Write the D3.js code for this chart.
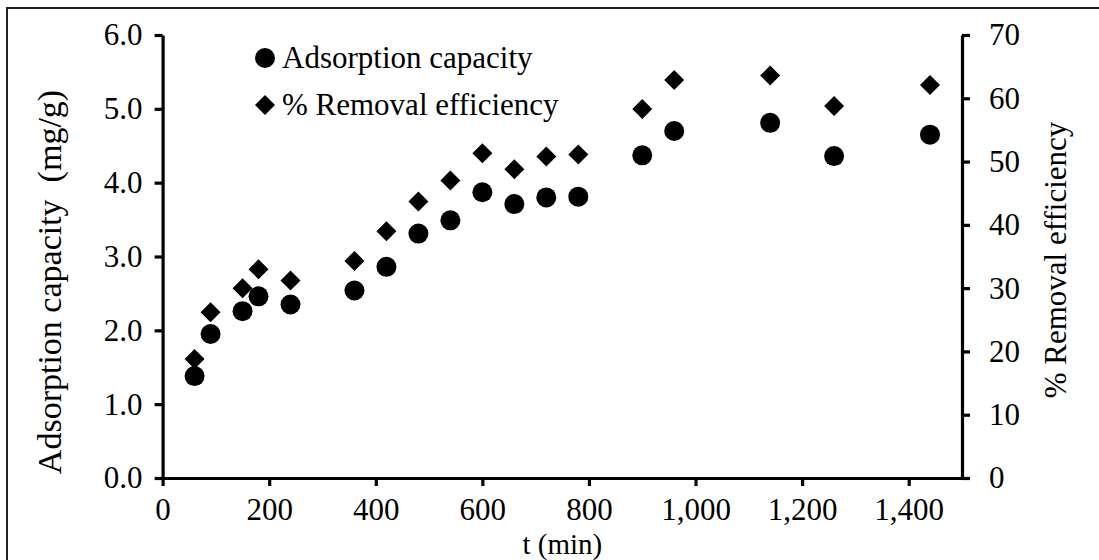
<!DOCTYPE html>
<html>
<head>
<meta charset="utf-8">
<script src="https://cdn.jsdelivr.net/npm/d3@7"></script>
<style>
    body { margin: 0; background: #fff; }
    svg text { font-family: "Liberation Serif", "Times New Roman", serif; fill: #000; }
</style>
</head>
<body>
<div class="chart"></div>
<script>
// contact time (min)
const time = [60, 90, 150, 180, 240, 360, 420, 480, 540, 600, 660, 720, 780, 900, 960, 1140, 1260, 1440];

// adsorption capacity (mg/g), left axis
const capacity = [1.38, 1.95, 2.26, 2.46, 2.35, 2.54, 2.86, 3.31, 3.49, 3.87, 3.71, 3.80, 3.81, 4.37, 4.70, 4.81, 4.36, 4.65];

// % removal efficiency, right axis
const removal = [18.8, 26.2, 30.0, 33.0, 31.2, 34.3, 39.0, 43.7, 47.0, 51.3, 48.8, 50.8, 51.1, 58.3, 62.9, 63.6, 58.8, 62.1];

const xTicks = [0, 200, 400, 600, 800, 1000, 1200, 1400];
const leftTicks = [0, 1, 2, 3, 4, 5, 6];
const rightTicks = [0, 10, 20, 30, 40, 50, 60, 70];

const seriesNames = ["Adsorption capacity", "% Removal efficiency"];

document.addEventListener('DOMContentLoaded', function(){

    let width = 1099;
    let height = 560;
    let left = 162.6, right = 962, top = 35, bottom = 478;
    let fontSize = 31;

    let svg = d3
    .select('.chart')
    .append('svg')
    .attr("width", width)
    .attr("height", height);

    // outer frame, runs off the right and bottom edge
    svg.append("rect")
    .attr("x", 7)
    .attr("y", 8)
    .attr("width", 1200)
    .attr("height", 700)
    .attr("fill", "none")
    .attr("stroke", "#222")
    .attr("stroke-width", 2);

    const xScale = d3.scaleLinear()
    .domain([0, 1500])
    .range([left, right]);

    const yLeft = d3.scaleLinear()
    .domain([0, 6])
    .range([bottom, top]);

    const yRight = d3.scaleLinear()
    .domain([0, 70])
    .range([bottom, top]);

    // style an axis group the same way for all three
    function styleAxis(g) {
        g.selectAll("path, line")
        .attr("stroke", "#000")
        .attr("stroke-width", 3.2);
        g.selectAll("text")
        .style("font-size", fontSize + "px")
        .attr("fill", "#000");
        g.attr("font-family", null);
    }

    const xAxis = d3.axisBottom(xScale)
    .tickValues(xTicks)
    .tickFormat(d3.format(","))
    .tickSize(8)
    .tickSizeOuter(0)
    .tickPadding(12);

    svg.append("g")
    .attr("id", "x-axis")
    .attr("transform", `translate(0, ${bottom})`)
    .call(xAxis)
    .call(styleAxis);

    const leftAxis = d3.axisLeft(yLeft)
    .tickValues(leftTicks)
    .tickFormat(d3.format(".1f"))
    .tickSize(8)
    .tickSizeOuter(0)
    .tickPadding(12);

    svg.append("g")
    .attr("id", "y-axis")
    .attr("transform", `translate(${left}, 0)`)
    .call(leftAxis)
    .call(styleAxis);

    const rightAxis = d3.axisRight(yRight)
    .tickValues(rightTicks)
    .tickFormat(d3.format("d"))
    .tickSize(8)
    .tickSizeOuter(0)
    .tickPadding(19);

    svg.append("g")
    .attr("id", "y-axis-right")
    .attr("transform", `translate(${right}, 0)`)
    .call(rightAxis)
    .call(styleAxis);

    // axis titles
    svg.append("text")
    .attr("x", (left + right) / 2)
    .attr("y", 554)
    .attr("text-anchor", "middle")
    .style("font-size", "29px")
    .text("t (min)");

    svg.append("text")
    .attr("transform", "translate(61, 282) rotate(-90)")
    .attr("text-anchor", "middle")
    .attr("xml:space", "preserve")
    .style("white-space", "pre")
    .style("font-size", "34px")
    .text("Adsorption capacity  (mg/g)");

    svg.append("text")
    .attr("transform", "translate(1066, 260) rotate(-90)")
    .attr("text-anchor", "middle")
    .style("font-size", fontSize + "px")
    .text("% Removal efficiency");

    const diamond = d3.symbol().type(d3.symbolSquare).size(200);

    // removal efficiency diamonds
    svg.append("g")
    .selectAll("path")
    .data(removal)
    .enter()
    .append("path")
    .attr("d", diamond)
    .attr("transform", (d, i) => `translate(${xScale(time[i])}, ${yRight(d)}) rotate(45)`)
    .attr("fill", "#000");

    // adsorption capacity circles
    svg.append("g")
    .selectAll("circle")
    .data(capacity)
    .enter()
    .append("circle")
    .attr("cx", (d, i) => xScale(time[i]))
    .attr("cy", (d) => yLeft(d))
    .attr("r", 10)
    .attr("fill", "#000");

    // legend
    const legend = svg.append("g").attr("transform", "translate(265, 58)");

    legend.append("circle")
    .attr("cx", 0)
    .attr("cy", 0)
    .attr("r", 10)
    .attr("fill", "#000");

    legend.append("path")
    .attr("d", diamond)
    .attr("transform", "translate(0, 47) rotate(45)")
    .attr("fill", "#000");

    legend.selectAll("text")
    .data(seriesNames)
    .enter()
    .append("text")
    .attr("x", 17)
    .attr("y", (d, i) => 10 + i * 47)
    .style("font-size", fontSize + "px")
    .text((d) => d);
});
</script>
</body>
</html>
